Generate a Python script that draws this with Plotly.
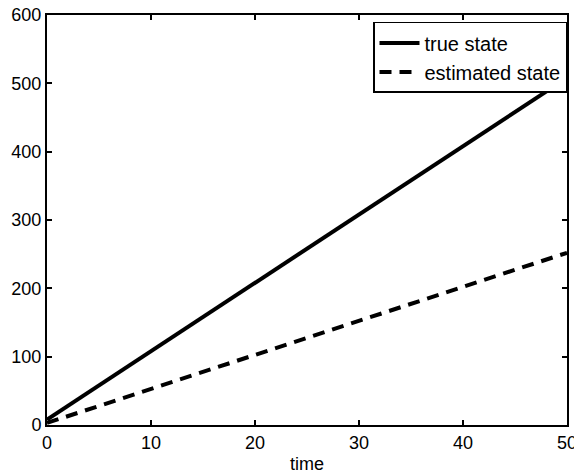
import plotly.graph_objects as go

# Sample times and state values
time = [0, 10, 20, 30, 40, 50]
true_state = [8, 108, 208, 308, 408, 508]
estimated_state = [3, 53, 103, 153, 203, 252]

x_ticks = [0, 10, 20, 30, 40, 50]
y_ticks = [0, 100, 200, 300, 400, 500, 600]

FONT = "Liberation Sans, Arial, Helvetica, sans-serif"

fig = go.Figure()
fig.add_trace(go.Scatter(
    x=time, y=true_state, mode="lines", name="true state",
    line=dict(color="black", width=4),
))
fig.add_trace(go.Scatter(
    x=time, y=estimated_state, mode="lines", name="estimated state",
    line=dict(color="black", width=4, dash="12px,8px"),
))

axis_common = dict(
    showgrid=False, zeroline=False, showline=True, linecolor="black",
    linewidth=2, mirror="ticks", ticks="inside", ticklen=5,
    tickwidth=1.5, tickcolor="black", automargin=False,
    ticklabeloverflow="allow",
    tickfont=dict(family=FONT, size=18, color="black"),
)

fig.update_layout(
    width=574, height=475,
    margin=dict(l=47, r=7, t=15, b=50, autoexpand=False),
    paper_bgcolor="white", plot_bgcolor="white",
    font=dict(family=FONT, color="black"),
    xaxis=dict(range=[0, 50], tickvals=x_ticks, ticktext=[str(v) for v in x_ticks],
               title=dict(text="time", font=dict(family=FONT, size=18, color="black"),
                          standoff=6),
               **axis_common),
    yaxis=dict(range=[0, 600], tickvals=y_ticks, ticktext=[str(v) for v in y_ticks],
               **axis_common),
    showlegend=True,
    legend=dict(
        x=1, y=0.983, xanchor="right", yanchor="top",
        bgcolor="white", bordercolor="black", borderwidth=1.5,
        font=dict(family=FONT, size=20, color="black"),
        tracegroupgap=0, itemwidth=40,
    ),
)

fig.write_html("out.html")
